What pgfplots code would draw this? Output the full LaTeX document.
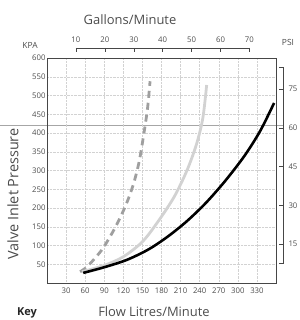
\documentclass[border=0pt]{standalone}
\usepackage{pgfplots}
\pgfplotsset{compat=1.18}
\usepackage{fontspec}
\setmainfont{Open Sans}
\definecolor{txt}{gray}{0.3}
\begin{document}
\begin{tikzpicture}
% reference line at about 60 psi
\draw[gray!70, line width=0.8pt] (-47bp,158bp) -- (236bp,158bp);
\begin{axis}[
  at={(0,0)}, anchor=south west,
  width=229bp, height=225bp, scale only axis,
  xmin=0, xmax=360, ymin=0, ymax=600,
  xtick={30,60,...,330}, ytick={50,100,...,600},
  grid=major, grid style={densely dotted, gray!35},
  axis line style={gray!55!black, line width=0.8pt},
  tick style={draw=none},
  ticklabel style={font=\fontsize{7.8}{8}\selectfont, text=txt},
  /pgf/number format/assume math mode=true,
  xticklabel style={yshift=-1bp},
  yticklabel style={xshift=2bp},
  clip=false,
]
\addplot[gray!75, line width=2.8pt, dash pattern=on 7bp off 5bp, smooth] coordinates {
 (52,30) (64,45) (86,88) (104,138) (118,185) (128,225) (137,270) (145,325) (152,395) (158,465) (162,538)};
\addplot[gray!35, line width=2.8pt, smooth] coordinates {
 (55,30) (90,47) (120,70) (150,110) (175,165) (200,230) (220,300) (235,370) (245,440) (251,528)};
\addplot[black, line width=2.6pt, smooth] coordinates {
 (57,27) (90,42) (126,62) (160,90) (190,124) (220,165) (250,214) (280,272) (310,338) (335,405) (357,480)};
\end{axis}
% top gallons axis
\draw[gray!55!black, line width=0.7pt] (28.9bp,235bp) -- (202.4bp,235bp);
\foreach \g in {10,20,...,70}{
  \pgfmathsetmacro\xx{\g*4.546/360*229}
  \draw[gray!55!black, line width=0.5pt] (\xx bp,235bp) -- (\xx bp,231bp);
  \node[font=\fontsize{7.8}{8}\selectfont, text=txt] at (\xx bp,243bp) {\g};
}
\node[font=\fontsize{13}{15}\selectfont, text=txt] at (83bp,263bp) {Gallons/Minute};
\node[font=\fontsize{8.5}{9}\selectfont, text=txt] at (-17bp,238bp) {KPA};
\node[font=\fontsize{8.5}{9}\selectfont, text=txt] at (241bp,241bp) {PSI};
% right psi axis
\draw[gray!55!black, line width=0.6pt] (232bp,216bp) -- (236bp,216bp) -- (236bp,20bp) -- (232bp,20bp);
\foreach \p in {15,30,45,60,75}{
  \pgfmathsetmacro\yy{\p*6.895*0.375}
  \draw[gray!55!black, line width=0.5pt] (236bp,\yy bp) -- (232bp,\yy bp);
  \node[font=\fontsize{7.8}{8}\selectfont, text=txt, anchor=west] at (238bp,\yy bp) {\p};
}
\node[font=\fontsize{14.5}{16}\selectfont, text=txt, rotate=90] at (-34bp,89bp) {Valve Inlet Pressure};
\node[font=\fontsize{13}{15}\selectfont, text=txt] at (107bp,-29bp) {Flow Litres/Minute};
\node[font=\bfseries\fontsize{11}{13}\selectfont, text=black!85] at (-20bp,-30bp) {Key};
\pgfresetboundingbox
\path (-47bp,-37bp) rectangle (253bp,283bp);
\end{tikzpicture}
\end{document}
